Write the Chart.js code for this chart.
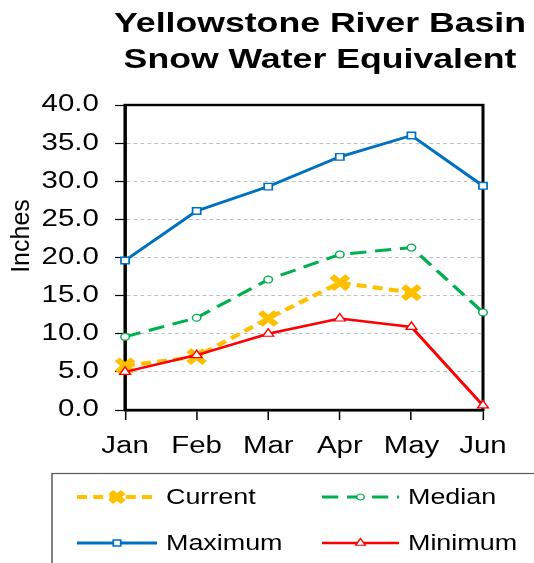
<!DOCTYPE html>
<html>
<head>
<meta charset="utf-8">
<title>Yellowstone River Basin Snow Water Equivalent</title>
<script src="https://cdn.jsdelivr.net/npm/chart.js@4.4.1/dist/chart.umd.min.js"></script>
<style>
  html, body { margin: 0; padding: 0; background: #fff; }
</style>
</head>
<body>
<!-- chart is laid out 427 wide and drawn stretched to 534 (the reference is horizontally stretched) -->
<canvas id="swe" width="427" height="563" style="width:534px;height:563px;display:block"></canvas>
<script>
// ── Data ─────────────────────────────────────────────────────────────────
const MONTHS  = ['Jan', 'Feb', 'Mar', 'Apr', 'May', 'Jun'];
const CURRENT = [5.8, 7.0, 12.0, 16.7, 15.4, null];
const MEDIAN  = [9.6, 12.1, 17.1, 20.4, 21.3, 12.8];
const MAXIMUM = [19.6, 26.1, 29.3, 33.2, 36.0, 29.4];
const MINIMUM = [5.0, 7.2, 10.0, 12.0, 10.9, 0.6];

const TITLE   = ['Yellowstone River Basin', 'Snow Water Equivalent'];
const Y_TITLE = 'Inches';
const Y_MIN = 0, Y_MAX = 40, Y_STEP = 5;

// ── Look ─────────────────────────────────────────────────────────────────
const FONT = '"Liberation Sans", Arial, sans-serif';
const OUT_W = 534;
const SX = OUT_W / 427;          // horizontal stretch applied when drawing

const COLORS = {
  current: '#FFC000',
  median:  '#00B050',
  maximum: '#0070C0',
  minimum: '#FF0000',
  grid:    '#BFBFBF',
  frame:   '#000000',
  legend:  '#595959',
};

Chart.defaults.font.family = FONT;
Chart.defaults.color = '#000';

// ── Plugins ──────────────────────────────────────────────────────────────

// stretch everything horizontally onto the wider backing store
const stretchPlugin = {
  id: 'stretch',
  beforeDraw(chart) {
    chart.ctx.setTransform(SX, 0, 0, 1, 0, 0);
  },
};

// plot frame, title, axis title and the boxed two-column legend
const decorPlugin = {
  id: 'decor',
  beforeDatasetsDraw(chart) {
    const { ctx, chartArea: a } = chart;
    ctx.save();
    ctx.strokeStyle = COLORS.frame;
    ctx.lineWidth = 2.4;
    ctx.strokeRect(a.left, a.top, a.right - a.left, a.bottom - a.top);
    ctx.restore();
  },
  afterDraw(chart) {
    const ctx = chart.ctx;
    ctx.save();
    ctx.fillStyle = '#000';

    // title
    ctx.font = `bold 28.5px ${FONT}`;
    ctx.textAlign = 'center';
    ctx.textBaseline = 'alphabetic';
    TITLE.forEach((line, i) => ctx.fillText(line, 320 / SX, 32 + i * 36));

    // y axis title, kept unstretched
    ctx.save();
    ctx.translate(22 / SX, 236);
    ctx.scale(1 / SX, 1);
    ctx.rotate(-Math.PI / 2);
    ctx.font = `25px ${FONT}`;
    ctx.textBaseline = 'middle';
    ctx.fillText(Y_TITLE, 0, 0);
    ctx.restore();

    // legend box (runs off the right and bottom edges)
    ctx.strokeStyle = COLORS.legend;
    ctx.lineWidth = 1.2;
    ctx.strokeRect(52 / SX, 473.5, 600, 200);

    const cols = [
      { x0: 77 / SX,  x1: 157 / SX, tx: 166 / SX },
      { x0: 322 / SX, x1: 399 / SX, tx: 408 / SX },
    ];
    const rows = [497, 543];

    chart.data.datasets.forEach((ds, i) => {
      const c = cols[i % 2];
      const y = rows[Math.floor(i / 2)];

      ctx.strokeStyle = ds.borderColor;
      ctx.lineWidth = ds.borderWidth;
      ctx.setLineDash(ds.borderDash || []);
      ctx.beginPath();
      ctx.moveTo(c.x0, y);
      ctx.lineTo(c.x1, y);
      ctx.stroke();
      ctx.setLineDash([]);

      ctx.fillStyle = ds.pointBackgroundColor;
      ctx.strokeStyle = ds.pointBorderColor;
      ctx.lineWidth = ds.pointBorderWidth;
      Chart.helpers.drawPoint(ctx, {
        pointStyle: ds.pointStyle,
        radius: ds.legendRadius,
        borderWidth: ds.pointBorderWidth,
        rotation: 0,
      }, (c.x0 + c.x1) / 2, y);

      ctx.fillStyle = '#000';
      ctx.font = `21.5px ${FONT}`;
      ctx.textAlign = 'left';
      ctx.textBaseline = 'middle';
      ctx.fillText(ds.label, c.tx, y + 1);
    });

    ctx.restore();
  },
};

// ── Chart ────────────────────────────────────────────────────────────────

function series(label, data, color, extra) {
  return Object.assign({
    label,
    data,
    borderColor: color,
    pointBorderColor: color,
    pointBackgroundColor: '#fff',
    borderDash: [],
    borderCapStyle: 'butt',
    fill: false,
    tension: 0,
    clip: false,
  }, extra);
}

const datasets = [
  series('Current', CURRENT, COLORS.current, {
    borderWidth: 4, borderDash: [8, 5], order: 3,
    pointStyle: 'crossRot', pointRadius: 9, pointBorderWidth: 5.5,
    pointBackgroundColor: COLORS.current, legendRadius: 7,
  }),
  series('Median', MEDIAN, COLORS.median, {
    borderWidth: 3, borderDash: [13, 7], order: 2,
    pointStyle: 'circle', pointRadius: 3.4, pointBorderWidth: 1.2, legendRadius: 3,
  }),
  series('Maximum', MAXIMUM, COLORS.maximum, {
    borderWidth: 2.8, order: 1,
    pointStyle: 'rect', pointRadius: 4.6, pointBorderWidth: 1.4, legendRadius: 4.2,
  }),
  series('Minimum', MINIMUM, COLORS.minimum, {
    borderWidth: 2.6, order: 0,
    pointStyle: 'triangle', pointRadius: 5, pointBorderWidth: 1.2, legendRadius: 4.5,
  }),
];

const canvas = document.getElementById('swe');
const chart = new Chart(canvas, {
  type: 'line',
  data: { labels: MONTHS, datasets },
  plugins: [stretchPlugin, decorPlugin],
  options: {
    responsive: false,
    animation: false,
    events: [],
    layout: { padding: { top: 105, right: 427 - 483 / SX, bottom: 103, left: 0 } },
    plugins: {
      legend: { display: false },
      title: { display: false },
      tooltip: { enabled: false },
    },
    scales: {
      x: {
        offset: false,
        afterFit(scale) { scale.height = 50; },
        grid: {
          drawOnChartArea: false,
          drawTicks: true,
          tickLength: 10,
          tickColor: '#000',
          tickWidth: 1.2,
        },
        border: { color: COLORS.frame, width: 2.4 },
        ticks: { font: { size: 23.5 }, padding: 12, maxRotation: 0, autoSkip: false },
      },
      y: {
        min: Y_MIN,
        max: Y_MAX,
        afterFit(scale) { scale.width = 100; },
        grid: {
          color: COLORS.grid,
          lineWidth: 1,
          tickLength: 8,
          tickColor: '#000',
          tickWidth: 1.2,
          tickBorderDash: [],
        },
        border: { color: COLORS.frame, width: 2.4, dash: [3, 2.5] },
        ticks: {
          stepSize: Y_STEP,
          padding: 13,
          font: { size: 23.5 },
          callback: v => Number(v).toFixed(1),
        },
      },
    },
  },
});

// widen the backing store, then redraw through the stretch transform
canvas.width = OUT_W;
canvas.height = 563;
chart.draw();
</script>
</body>
</html>
